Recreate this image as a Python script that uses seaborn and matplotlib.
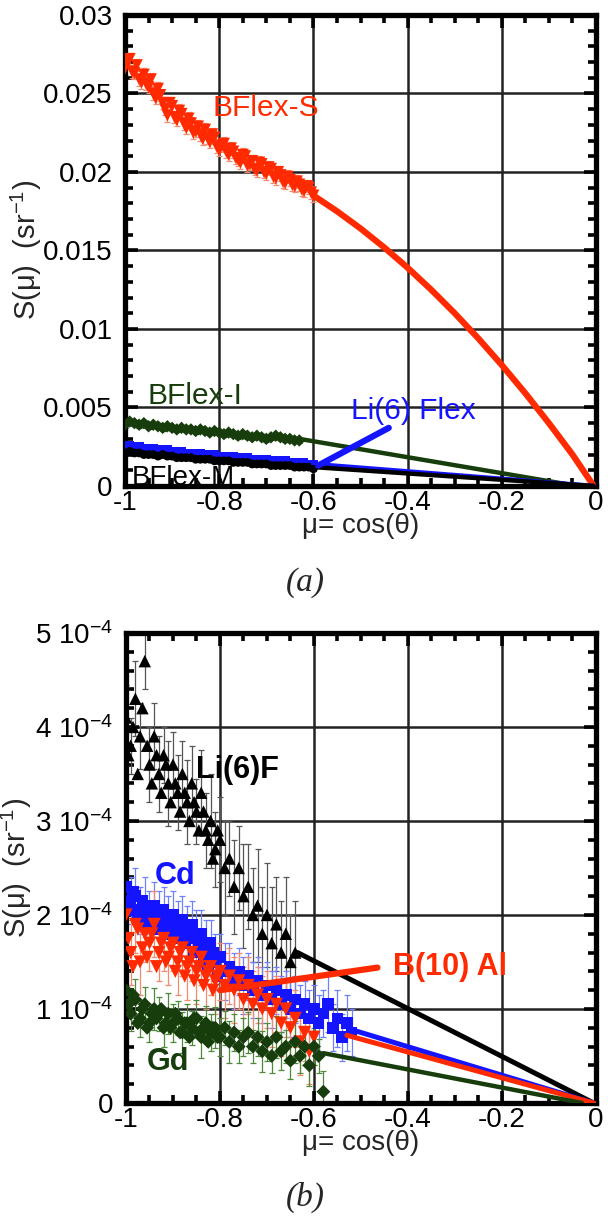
import matplotlib
matplotlib.use('Agg')
import matplotlib.pyplot as plt
import seaborn as sns
from matplotlib.ticker import MultipleLocator, FuncFormatter

# ---------------- panel (a) data ----------------
mu_a = [-1.00, -0.99, -0.98, -0.97, -0.96, -0.95, -0.94, -0.93, -0.92, -0.91,
        -0.90, -0.89, -0.88, -0.87, -0.86, -0.85, -0.84, -0.83, -0.82, -0.81,
        -0.80, -0.79, -0.78, -0.77, -0.76, -0.75, -0.74, -0.73, -0.72, -0.71,
        -0.70, -0.69, -0.68, -0.67, -0.66, -0.65, -0.64, -0.63, -0.62, -0.61,
        -0.60]
mu_a_mid = [-0.995, -0.985, -0.975, -0.965, -0.955, -0.945, -0.935, -0.925, -0.915, -0.905,
            -0.895, -0.885, -0.875, -0.865, -0.855, -0.845, -0.835, -0.825, -0.815, -0.805,
            -0.795, -0.785, -0.775, -0.765, -0.755, -0.745, -0.735, -0.725, -0.715, -0.705,
            -0.695, -0.685, -0.675, -0.665, -0.655, -0.645, -0.635, -0.625, -0.615, -0.605]

bflex_s = [0.0266, 0.0272, 0.0263, 0.0259, 0.0262, 0.0254, 0.0250, 0.0253, 0.0244, 0.0236,
           0.0242, 0.0233, 0.0237, 0.0228, 0.0231, 0.0226, 0.0224, 0.0227, 0.0219, 0.0222,
           0.0214, 0.0218, 0.0211, 0.0213, 0.0208, 0.0211, 0.0204, 0.0207, 0.0201, 0.0205,
           0.0199, 0.0202, 0.0196, 0.0198, 0.0193, 0.0195, 0.0191, 0.0192, 0.0188, 0.0190,
           0.0185]
bflex_s_mid = [0.0270, 0.0264, 0.0268, 0.0257, 0.0256, 0.0259, 0.0247, 0.0249, 0.0240, 0.0244,
               0.0235, 0.0239, 0.0231, 0.0234, 0.0225, 0.0229, 0.0221, 0.0222, 0.0224, 0.0216,
               0.0217, 0.0213, 0.0215, 0.0209, 0.0206, 0.0210, 0.0205, 0.0202, 0.0206, 0.0200,
               0.0203, 0.0197, 0.0200, 0.0194, 0.0197, 0.0192, 0.0194, 0.0189, 0.0191, 0.0187]
bflex_s_err = 0.0004

bflex_i = [0.0039, 0.0041, 0.0040, 0.0039, 0.0040, 0.0038, 0.0039, 0.0038, 0.0037, 0.0038,
           0.0037, 0.0036, 0.0037, 0.0036, 0.0036, 0.0035, 0.0036, 0.0035, 0.0034, 0.0035,
           0.0034, 0.0033, 0.0034, 0.0033, 0.0032, 0.0033, 0.0032, 0.0031, 0.0032, 0.0031,
           0.0030, 0.0031, 0.0032, 0.0031, 0.0030, 0.0030, 0.0029, 0.0029]
bflex_i_err = 0.00018

li6_flex = [0.0025, 0.0026, 0.0025, 0.0025, 0.0024, 0.0024, 0.0024, 0.0023, 0.0023, 0.0023,
            0.0022, 0.0022, 0.0022, 0.0021, 0.0021, 0.0021, 0.0021, 0.0020, 0.0020, 0.0020,
            0.0019, 0.0019, 0.0019, 0.0019, 0.0018, 0.0018, 0.0018, 0.0017, 0.0017, 0.0017,
            0.0017, 0.0016, 0.0016, 0.0016, 0.0016, 0.0015, 0.0015, 0.0015, 0.0015, 0.0014,
            0.0014]
li6_flex_err = 0.00012

bflex_m = [0.0021, 0.0022, 0.0021, 0.0021, 0.0020, 0.0020, 0.0020, 0.0019, 0.0020, 0.0019,
           0.0019, 0.0018, 0.0018, 0.0018, 0.0018, 0.0017, 0.0017, 0.0017, 0.0017, 0.0016,
           0.0016, 0.0016, 0.0016, 0.0015, 0.0015, 0.0015, 0.0015, 0.0014, 0.0014, 0.0014,
           0.0014, 0.0013, 0.0013, 0.0013, 0.0013, 0.0013, 0.0012, 0.0012, 0.0012, 0.0012,
           0.0011]
bflex_m_err = 0.00012

# fitted extrapolations to mu = 0
fit_s_mu = [-0.60, -0.55, -0.50, -0.45, -0.40, -0.35, -0.30, -0.25, -0.20, -0.15, -0.10, -0.05, -0.005]
fit_s_val = [0.0185, 0.0175, 0.0164, 0.0152, 0.0139, 0.0125, 0.0110, 0.0094, 0.0077, 0.0059, 0.0040, 0.0020, 0.0]
fit_i_mu, fit_i_val = [-0.63, -0.04], [0.0030, 0.0]
fit_li_mu, fit_li_val = [-0.60, -0.005], [0.0014, 0.0]
fit_m_mu, fit_m_val = [-0.60, -0.005], [0.0012, 0.0]
li6_pointer_mu, li6_pointer_val = [-0.59, -0.44], [0.0013, 0.0037]

# ---------------- panel (b) data (units of 1e-4 sr^-1) ----------------
mu_b = [-1.00, -0.99, -0.98, -0.97, -0.96, -0.95, -0.94, -0.93, -0.92, -0.91,
        -0.90, -0.89, -0.88, -0.87, -0.86, -0.85, -0.84, -0.83, -0.82, -0.81,
        -0.80, -0.79, -0.78, -0.77, -0.76, -0.75, -0.74, -0.73, -0.72, -0.71,
        -0.70, -0.69, -0.68, -0.67, -0.66, -0.65, -0.64, -0.63, -0.62, -0.61,
        -0.60, -0.59, -0.58, -0.57, -0.56, -0.55, -0.54, -0.53, -0.52]
mu_b_mid = [-0.995, -0.985, -0.975, -0.965, -0.955, -0.945, -0.935, -0.925, -0.915, -0.905,
            -0.895, -0.885, -0.875, -0.865, -0.855, -0.845, -0.835, -0.825, -0.815, -0.805]

li6f = [4.1, 3.8, 4.3, 3.9, 4.7, 3.6, 3.9, 3.5, 3.7, 3.4,
        3.6, 3.3, 3.5, 3.2, 3.4, 3.1, 3.3, 2.9, 3.0, 2.7,
        2.8, 2.5, 2.6, 2.3, 2.5, 2.2, 2.3, 2.0, 2.1, 1.8,
        2.0, 1.7, 1.9, 1.6, 1.8, 1.5, 1.6]
li6f_mid = [3.7, 4.0, 3.5, 4.2, 3.8, 3.4, 3.7, 3.3, 3.6, 3.2,
            3.4, 3.1, 3.3, 3.0, 3.2, 2.9, 3.1, 2.8, 2.6, 2.9]
li6f_err = [0.35, 0.30, 0.40, 0.35, 0.30, 0.40, 0.35, 0.40, 0.30, 0.45,
            0.35, 0.40, 0.35, 0.45, 0.40, 0.35, 0.45, 0.40, 0.50, 0.40,
            0.45, 0.50, 0.40, 0.50, 0.45, 0.55, 0.45, 0.50, 0.60, 0.50,
            0.55, 0.60, 0.50, 0.55, 0.60, 0.50, 0.55]

cd = [2.30, 2.15, 2.20, 2.05, 2.10, 2.00, 2.10, 1.95, 2.05, 1.90,
      2.00, 1.85, 1.95, 1.80, 1.90, 1.75, 1.80, 1.65, 1.70, 1.50,
      1.55, 1.40, 1.45, 1.30, 1.40, 1.25, 1.35, 1.20, 1.30, 1.15,
      1.25, 1.10, 1.20, 1.05, 1.15, 1.00, 1.10, 0.95, 1.05, 0.90,
      1.00, 0.85, 0.95, 1.05, 0.80, 0.90, 0.70, 0.85, 0.75]
cd_mid = [2.05, 2.25, 1.95, 2.15, 1.90, 2.05, 1.85, 2.00, 1.80, 1.95,
          1.75, 1.90, 1.70, 1.80, 1.60, 1.70, 1.55, 1.45, 1.60, 1.35]
cd_err = [0.30, 0.25, 0.30, 0.25, 0.30, 0.25, 0.25, 0.30, 0.25, 0.30,
          0.25, 0.30, 0.25, 0.30, 0.25, 0.30, 0.25, 0.30, 0.25, 0.30,
          0.25, 0.30, 0.25, 0.30, 0.25, 0.30, 0.25, 0.30, 0.25, 0.30,
          0.25, 0.30, 0.25, 0.30, 0.25, 0.30, 0.25, 0.30, 0.25, 0.30,
          0.25, 0.30, 0.25, 0.30, 0.25, 0.30, 0.25, 0.30, 0.25]

b10al = [2.00, 1.60, 1.90, 1.50, 1.80, 1.70, 1.90, 1.60, 1.75, 1.55,
         1.70, 1.50, 1.65, 1.45, 1.60, 1.40, 1.55, 1.35, 1.45, 1.30,
         1.40, 1.25, 1.35, 1.20, 1.30, 1.10, 1.25, 1.05, 1.15, 1.00,
         1.10, 0.95, 1.05, 0.85, 1.00, 0.80, 0.90, 0.65, 0.75, 0.55,
         0.70]
b10al_mid = [1.75, 1.45, 1.85, 1.65, 1.55, 1.80, 1.45, 1.70, 1.50, 1.65,
             1.40, 1.60, 1.35, 1.50, 1.30, 1.45, 1.25, 1.40, 1.20, 1.35]
b10al_err = [0.30, 0.35, 0.30, 0.35, 0.30, 0.30, 0.35, 0.30, 0.35, 0.30,
             0.30, 0.35, 0.30, 0.35, 0.30, 0.35, 0.30, 0.35, 0.30, 0.35,
             0.30, 0.35, 0.30, 0.35, 0.30, 0.35, 0.30, 0.35, 0.30, 0.35,
             0.30, 0.35, 0.30, 0.35, 0.30, 0.35, 0.30, 0.35, 0.30, 0.35,
             0.30]

gd = [1.20, 0.95, 1.10, 0.90, 1.05, 0.85, 1.00, 0.95, 0.80, 0.95,
      0.85, 0.90, 0.75, 0.85, 0.80, 0.90, 0.70, 0.85, 0.75, 0.80,
      0.70, 0.80, 0.65, 0.75, 0.60, 0.70, 0.75, 0.60, 0.70, 0.55,
      0.65, 0.50, 0.70, 0.55, 0.60, 0.45, 0.65, 0.50, 0.60, 0.40,
      0.60, 0.50, 0.12]
gd_mid = [1.05, 1.15, 0.85, 1.00, 0.80, 0.95, 0.90, 1.00, 0.85, 0.80,
          0.95, 0.75, 0.85, 0.70, 0.90, 0.75, 0.80, 0.65, 0.80, 0.70]
gd_err = [0.20, 0.18, 0.22, 0.20, 0.18, 0.20, 0.22, 0.18, 0.20, 0.22,
          0.20, 0.18, 0.22, 0.20, 0.18, 0.20, 0.22, 0.18, 0.20, 0.22,
          0.20, 0.18, 0.22, 0.20, 0.18, 0.20, 0.22, 0.18, 0.20, 0.22,
          0.20, 0.18, 0.22, 0.20, 0.18, 0.20, 0.22, 0.18, 0.20, 0.22,
          0.20, 0.18, 0.22]

fit_li6f_mu, fit_li6f_val = [-0.635, -0.005], [1.60, 0.0]
fit_cd_mu, fit_cd_val = [-0.52, -0.005], [0.78, 0.0]
fit_b10_mu, fit_b10_val = [-0.53, -0.005], [0.72, 0.0]
fit_gd_mu, fit_gd_val = [-0.58, -0.03], [0.53, 0.0]
b10_pointer_mu, b10_pointer_val = [-0.80, -0.465], [1.20, 1.44]

RED, RED_E = '#ff2a00', '#f48a6e'
BLUE, BLUE_E = '#1414ff', '#6f80ff'
GREEN, GREEN_E = '#173d0c', '#4f8a3c'
BLACK, BLACK_E = '#000000', '#555555'

sns.set_style('white')
plt.rcParams['font.family'] = ['Liberation Sans', 'DejaVu Sans']
plt.rcParams['mathtext.fontset'] = 'custom'
plt.rcParams['mathtext.rm'] = 'Liberation Sans'
plt.rcParams['mathtext.it'] = 'Liberation Sans:italic'
plt.rcParams['axes.unicode_minus'] = False

fig = plt.figure(figsize=(6.08, 12.17), dpi=100)
ax_a = fig.add_axes([0.2056, 0.6007, 0.7747, 0.3870])
ax_b = fig.add_axes([0.2072, 0.0937, 0.7730, 0.3862])


def style_axes(ax, ymax, ymajor, yminor, yfmt, ylab_x):
    ax.set_xlim(-1, 0)
    ax.set_ylim(0, ymax)
    ax.xaxis.set_major_locator(MultipleLocator(0.2))
    ax.xaxis.set_minor_locator(MultipleLocator(0.05))
    ax.yaxis.set_major_locator(MultipleLocator(ymajor))
    ax.yaxis.set_minor_locator(MultipleLocator(yminor))
    ax.xaxis.set_major_formatter(FuncFormatter(lambda v, p: '%g' % round(v, 2)))
    ax.yaxis.set_major_formatter(FuncFormatter(yfmt))
    ax.grid(True, which='major', color='#222222', linewidth=1.8)
    ax.set_axisbelow(True)
    for s in ax.spines.values():
        s.set_visible(True)
        s.set_linewidth(3.8)
        s.set_color('black')
    ax.tick_params(which='both', direction='in', top=True, right=True,
                   bottom=True, left=True, colors='black')
    ax.tick_params(which='major', length=9, width=2.6, labelsize=20)
    ax.tick_params(axis='y', which='major', pad=9)
    ax.tick_params(axis='x', which='major', pad=3)
    ax.tick_params(which='minor', length=5.5, width=2.6)
    ax.set_xlabel('\u03bc= cos(\u03b8)', fontsize=20)
    ax.set_ylabel('S(\u03bc)  (sr$^{-1}$)', fontsize=21)
    ax.xaxis.set_label_coords(0.5, -0.058)
    ax.yaxis.set_label_coords(ylab_x, 0.5)


def points(ax, x, y, err, color, ecolor, marker, size):
    if err is not None:
        ax.errorbar(x, y, yerr=err, fmt='none', ecolor=ecolor, elinewidth=0.9,
                    capsize=2.2, capthick=0.9, zorder=2)
    sns.scatterplot(x=x, y=y, marker=marker, color=color, s=size,
                    edgecolor='none', linewidth=0, ax=ax, zorder=3, legend=False)


def fit(ax, x, y, color, lw):
    sns.lineplot(x=x, y=y, color=color, linewidth=lw, estimator=None,
                 sort=False, ax=ax, zorder=3, legend=False)


# ---------------- panel (a) ----------------
points(ax_a, mu_a[:len(bflex_i)], bflex_i, bflex_i_err, GREEN, GREEN, 'D', 40)
points(ax_a, mu_a, li6_flex, li6_flex_err, BLUE, BLUE, 's', 40)
points(ax_a, mu_a, bflex_m, bflex_m_err, BLACK, BLACK, 'o', 40)
points(ax_a, mu_a_mid, bflex_s_mid, bflex_s_err, RED, RED_E, 'v', 75)
points(ax_a, mu_a, bflex_s, bflex_s_err, RED, RED_E, 'v', 75)
fit(ax_a, fit_s_mu, fit_s_val, RED, 4.5)
fit(ax_a, fit_i_mu, fit_i_val, GREEN, 3.2)
fit(ax_a, fit_li_mu, fit_li_val, BLUE, 3.2)
fit(ax_a, fit_m_mu, fit_m_val, BLACK, 3.2)
ax_a.plot(li6_pointer_mu, li6_pointer_val, color=BLUE, linewidth=4.5, zorder=4)

ax_a.text(-0.815, 0.0241, 'BFlex-S', color=RED, fontsize=21.5, va='center')
ax_a.text(-0.952, 0.0057, 'BFlex-I', color=GREEN, fontsize=21.5, va='center')
ax_a.text(-0.52, 0.0048, 'Li(6) Flex', color=BLUE, fontsize=21.5, va='center')
ax_a.text(-0.985, 0.0005, 'BFlex-M', color=BLACK, fontsize=20, va='center', zorder=1)

style_axes(ax_a, 0.03, 0.005, 0.001, lambda v, p: '%g' % round(v, 4), -0.172)

# ---------------- panel (b) ----------------
e4 = 1e-4
points(ax_b, mu_b_mid, [v * e4 for v in li6f_mid], None, BLACK, BLACK_E, '^', 80)
points(ax_b, mu_b[:len(li6f)], [v * e4 for v in li6f], [v * e4 for v in li6f_err],
       BLACK, BLACK_E, '^', 80)
points(ax_b, mu_b_mid, [v * e4 for v in cd_mid], None, BLUE, BLUE_E, 's', 70)
points(ax_b, mu_b[:len(cd)], [v * e4 for v in cd], [v * e4 for v in cd_err],
       BLUE, BLUE_E, 's', 70)
points(ax_b, mu_b_mid, [v * e4 for v in b10al_mid], None, RED, RED_E, 'v', 90)
points(ax_b, mu_b[:len(b10al)], [v * e4 for v in b10al], [v * e4 for v in b10al_err],
       RED, RED_E, 'v', 90)
points(ax_b, mu_b_mid, [v * e4 for v in gd_mid], None, GREEN, GREEN_E, 'D', 50)
points(ax_b, mu_b[:len(gd)], [v * e4 for v in gd], [v * e4 for v in gd_err],
       GREEN, GREEN_E, 'D', 50)
fit(ax_b, fit_li6f_mu, [v * e4 for v in fit_li6f_val], BLACK, 3.6)
fit(ax_b, fit_cd_mu, [v * e4 for v in fit_cd_val], BLUE, 3.6)
fit(ax_b, fit_b10_mu, [v * e4 for v in fit_b10_val], RED, 3.6)
fit(ax_b, fit_gd_mu, [v * e4 for v in fit_gd_val], GREEN, 3.2)
ax_b.plot(b10_pointer_mu, [v * e4 for v in b10_pointer_val], color=RED, linewidth=4.5, zorder=4)

ax_b.text(-0.85, 3.54e-4, 'Li(6)F', color=BLACK, fontsize=22, fontweight='bold', va='center')
ax_b.text(-0.938, 2.41e-4, 'Cd', color=BLUE, fontsize=22, fontweight='bold', va='center')
ax_b.text(-0.955, 0.44e-4, 'Gd', color=GREEN, fontsize=22, fontweight='bold', va='center')
ax_b.text(-0.432, 1.45e-4, 'B(10) Al', color=RED, fontsize=22, fontweight='bold', va='center')

style_axes(ax_b, 5e-4, 1e-4, 2e-5,
           lambda v, p: '0' if abs(v) < 1e-9 else '%d 10$^{-4}$' % round(v * 1e4), -0.195)

fig.text(0.502, 0.521, '(a)', fontsize=24, family='Liberation Serif', style='italic',
         ha='center', va='center')
fig.text(0.502, 0.0165, '(b)', fontsize=24, family='Liberation Serif', style='italic',
         ha='center', va='center')

fig.savefig('out.png', dpi=100)
